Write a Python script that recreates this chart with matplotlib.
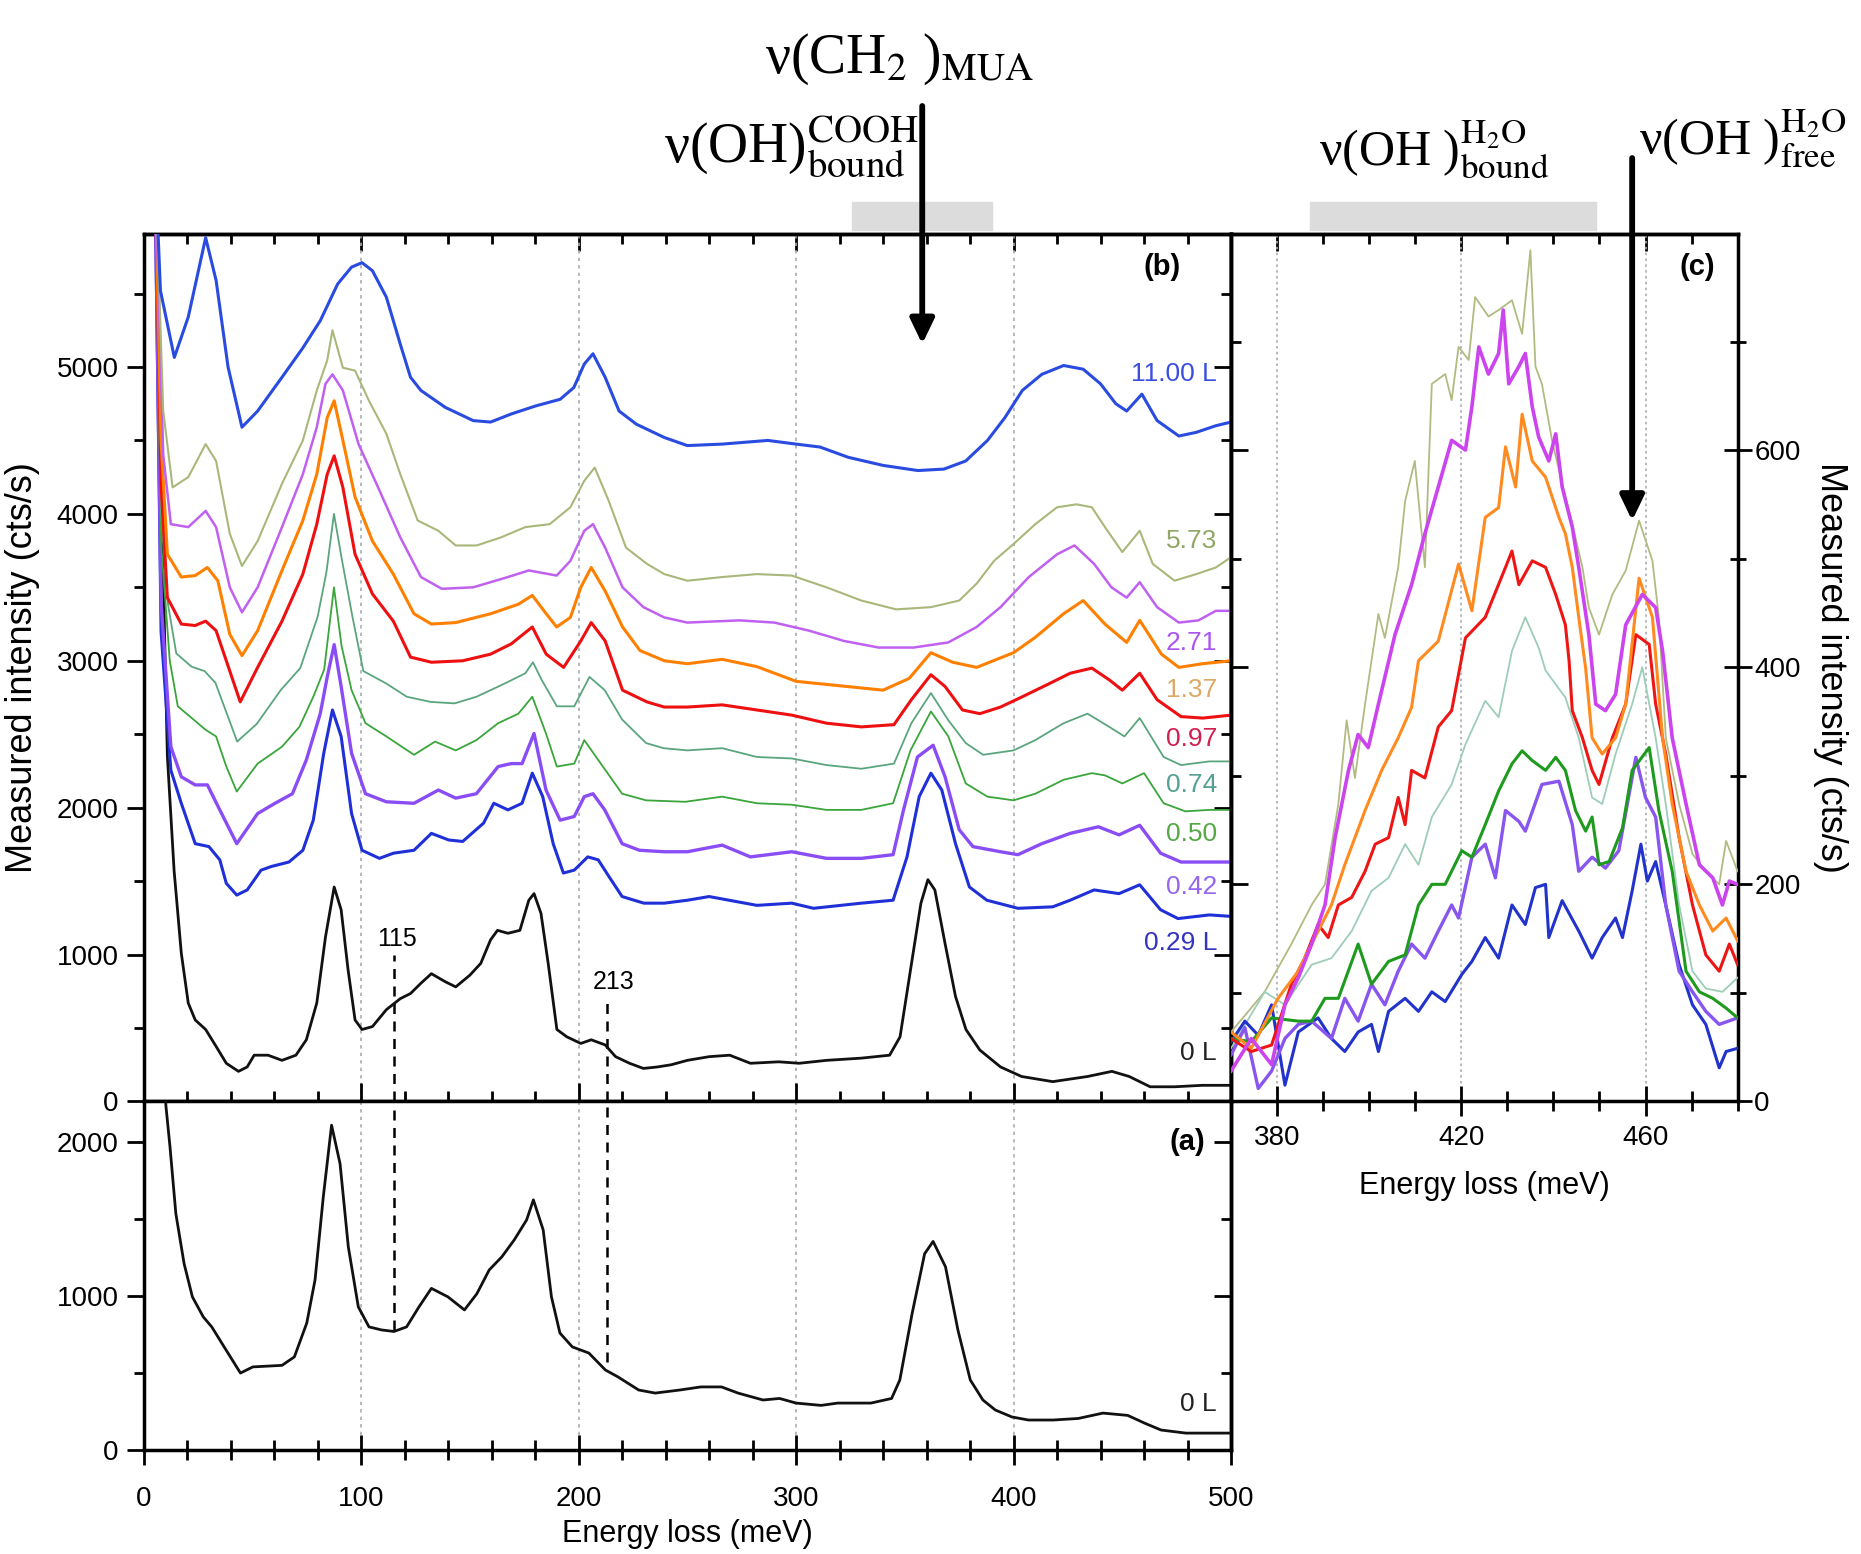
"""HREELS spectra of MUA layers under water exposure: panels (a), (b) and (c)."""

import matplotlib.pyplot as plt
import matplotlib.transforms as mtransforms
from matplotlib.patches import Rectangle
from matplotlib.ticker import FixedLocator, MultipleLocator

# ---------------------------------------------------------------- panel (b)
B_11_X = [5, 7.7, 14.1, 20.5, 28.5, 33.3, 38.8, 45.2, 52.4, 63.6, 73.2, 81.2, 89.2, 95.6, 100.4,
          105.2, 111.6, 118, 122.7, 127.5, 138.7, 151.5, 159.5, 169, 180.3, 191.5, 197.8, 202.6,
          206.6, 212.2, 218.6, 226.6, 239.4, 250, 266, 287, 300, 311, 324, 340, 356, 368, 378, 388,
          396, 404, 413, 423, 432, 440, 447, 452, 459, 466, 476, 484, 493, 500]
B_11_Y = [6500, 5520, 5065, 5340, 5880, 5590, 5000, 4590, 4700, 4930, 5130, 5315, 5565, 5680, 5710,
          5655, 5475, 5155, 4930, 4840, 4725, 4635, 4625, 4680, 4735, 4780, 4860, 5020, 5090, 4930,
          4700, 4610, 4520, 4465, 4475, 4500, 4475, 4455, 4385, 4330, 4295, 4305, 4360, 4500, 4655,
          4840, 4950, 5010, 4985, 4885, 4750, 4700, 4815, 4635, 4530, 4555, 4600, 4625]

B_573_X = [5, 9, 13.3, 20.5, 28.5, 33.3, 39.6, 45.2, 52.4, 63.6, 73.2, 79.6, 84.4, 86.8, 91.6, 97.2,
           103.6, 111.6, 118, 126, 135.5, 143.5, 153.1, 164.3, 175.5, 186.7, 196.2, 202.6, 207.4,
           213.8, 221.8, 231.4, 239.4, 250, 266, 282, 298, 314, 330, 346, 362, 375, 383, 391, 400,
           410, 420, 429, 436, 442, 450, 458, 464, 474, 484, 493, 500]
B_573_Y = [6500, 4700, 4180, 4250, 4475, 4360, 3865, 3645, 3815, 4205, 4500, 4840, 5045, 5250, 4995,
           4975, 4770, 4545, 4270, 3955, 3885, 3785, 3785, 3840, 3910, 3930, 4045, 4225, 4315, 4090,
           3770, 3660, 3590, 3545, 3570, 3590, 3580, 3500, 3410, 3350, 3365, 3410, 3525, 3680, 3795,
           3930, 4045, 4065, 4045, 3910, 3740, 3885, 3660, 3545, 3590, 3635, 3705]

B_271_X = [5, 9, 12.5, 20.5, 28.5, 33.3, 39.6, 45.2, 52.4, 63.6, 73.2, 79.6, 83.6, 86.8, 91.6, 98.8,
           108.4, 118, 127.5, 137.1, 151.5, 167.5, 177.1, 189.9, 196.2, 202.6, 206.6, 212.2, 220.2,
           229.8, 239.4, 250, 274, 290, 306, 322, 338, 354, 370, 383, 394, 407, 420, 428, 437, 445,
           452, 458, 466, 476, 485, 493, 500]
B_271_Y = [6500, 4400, 3930, 3910, 4020, 3910, 3500, 3330, 3500, 3910, 4270, 4590, 4885, 4950, 4840,
           4475, 4160, 3840, 3570, 3490, 3500, 3570, 3615, 3580, 3680, 3885, 3930, 3770, 3500, 3365,
           3295, 3260, 3275, 3260, 3205, 3135, 3090, 3090, 3125, 3230, 3365, 3570, 3725, 3785, 3660,
           3500, 3430, 3535, 3365, 3260, 3275, 3340, 3340]

B_137_X = [5, 8, 10.9, 17.3, 23.7, 29.3, 34.1, 39.6, 45.2, 52.4, 63.6, 73.2, 79.6, 84.4, 87.6, 91.6,
           97.2, 105.2, 114.8, 124.3, 132.3, 143.5, 159.5, 172.3, 178.7, 185.1, 189.9, 196.2, 201,
           205.8, 212.2, 220.2, 228.2, 239.4, 250, 266, 282, 300, 320, 340, 352, 362, 372, 383, 400,
           410, 423, 432, 442, 452, 458, 468, 476, 487, 500]
B_137_Y = [6500, 4500, 3725, 3570, 3580, 3635, 3545, 3180, 3035, 3205, 3615, 3955, 4270, 4655, 4770,
           4500, 4115, 3815, 3590, 3320, 3250, 3260, 3320, 3385, 3445, 3320, 3230, 3295, 3500, 3635,
           3475, 3230, 3070, 3000, 2980, 3010, 2960, 2860, 2830, 2800, 2880, 3055, 2990, 2955, 3055,
           3160, 3320, 3410, 3250, 3125, 3275, 3045, 2955, 2980, 3000]

B_097_X = [5, 8, 10.9, 17.3, 23.7, 28.5, 33.3, 38, 44.4, 52.4, 63.6, 73.2, 79.6, 84.4, 87.6, 91.6,
           97.2, 105.2, 114.8, 122.7, 132.3, 146.7, 159.5, 169, 178.7, 185.1, 193.1, 201, 205.8,
           212.2, 220.2, 231.4, 239.4, 250, 266, 282, 298, 314, 330, 345, 353, 362, 368.5, 376.5,
           384.5, 394, 404, 416.5, 426, 436, 444, 450, 458, 466, 477, 487, 500]
B_097_Y = [6500, 4200, 3430, 3250, 3240, 3270, 3205, 3000, 2720, 2955, 3270, 3590, 3930, 4270, 4395,
           4180, 3725, 3455, 3270, 3025, 2990, 3000, 3045, 3115, 3230, 3045, 2955, 3135, 3260, 3135,
           2800, 2720, 2685, 2685, 2700, 2665, 2630, 2575, 2550, 2565, 2735, 2905, 2825, 2665, 2640,
           2685, 2755, 2845, 2915, 2950, 2870, 2800, 2915, 2735, 2620, 2610, 2630]

B_074_X = [5, 8, 11, 15, 22, 28, 33, 38, 43, 52, 63, 72, 80, 84, 87.5, 91, 96, 101, 111.6, 121, 132,
           143, 153, 166, 175.5, 179, 183, 190, 198, 205, 212, 220, 231, 239, 250, 266, 282, 298,
           314, 330, 345, 353, 362, 370, 378, 386, 400, 410, 423, 434, 444, 451, 458, 469, 477, 490,
           500]
B_074_Y = [6500, 4000, 3400, 3050, 2960, 2930, 2850, 2650, 2450, 2570, 2800, 2950, 3300, 3600, 4000,
           3700, 3300, 2930, 2845, 2755, 2720, 2710, 2755, 2845, 2915, 2990, 2870, 2690, 2690, 2890,
           2800, 2600, 2440, 2405, 2390, 2405, 2345, 2335, 2290, 2265, 2300, 2575, 2780, 2595, 2440,
           2360, 2390, 2460, 2575, 2640, 2550, 2485, 2610, 2345, 2290, 2315, 2315]

B_050_X = [5, 8, 12, 15.7, 28.5, 33.3, 38, 42.8, 52.4, 63.6, 71.6, 78, 83, 87.5, 91, 95.6, 102,
           111.6, 124.3, 134, 143.5, 153, 163, 172.3, 178.7, 185, 190, 198, 202.6, 209, 220, 231,
           249, 266, 282, 298, 314, 330, 344.6, 352.6, 362, 370, 378, 388, 400, 410, 423, 436, 442,
           450, 460, 469, 479, 490, 500]
B_050_Y = [6500, 3800, 3000, 2690, 2530, 2485, 2280, 2110, 2300, 2415, 2550, 2755, 2940, 3500, 3100,
           2800, 2575, 2485, 2360, 2450, 2390, 2460, 2575, 2640, 2755, 2505, 2280, 2300, 2460, 2325,
           2095, 2050, 2040, 2075, 2030, 2020, 1985, 1985, 2030, 2390, 2655, 2485, 2165, 2075, 2050,
           2095, 2190, 2235, 2220, 2165, 2235, 2030, 1975, 1985, 1985]

B_042_X = [5, 8, 12.5, 17.3, 23.7, 29.3, 35, 42.8, 52.4, 60.4, 68.4, 74.8, 81.2, 84.4, 87.6, 90.8,
           95.6, 102, 111.6, 124.3, 135.5, 143.5, 153, 163, 169, 174, 179.5, 185, 191.5, 198, 202.6,
           206.6, 212, 220, 228, 239.4, 250, 266, 279, 298, 314, 330, 344.6, 349.4, 355.8, 363,
           368.5, 375, 381.3, 394, 402, 413, 426, 439, 448.5, 458, 467.6, 477, 490, 500]
B_042_Y = [6500, 3400, 2415, 2210, 2155, 2155, 1985, 1755, 1960, 2030, 2095, 2325, 2640, 2890, 3110,
           2825, 2370, 2095, 2040, 2030, 2120, 2065, 2095, 2280, 2300, 2300, 2505, 2120, 1915, 1940,
           2075, 2095, 1985, 1755, 1710, 1700, 1700, 1745, 1665, 1700, 1655, 1655, 1680, 1985, 2345,
           2425, 2210, 1850, 1735, 1700, 1680, 1755, 1825, 1870, 1815, 1880, 1690, 1630, 1630, 1630]

B_029_X = [5, 8, 12.5, 17.3, 23.7, 30, 35, 38, 42.8, 47.6, 54, 58.8, 66.8, 73.2, 78, 82.8, 86.8,
           90.8, 95.6, 100.4, 108.4, 114.8, 124.3, 132.3, 140.3, 146.7, 156.3, 161, 167.5, 174,
           178.7, 183.5, 188.3, 193, 198, 204.2, 209, 214, 220, 230, 239.4, 250, 260, 282, 298, 308,
           330, 344.6, 351, 356.6, 362, 367, 373.3, 379.7, 387.7, 402, 418, 426, 437, 448.5, 458,
           467.6, 475.6, 490, 500]
B_029_Y = [6500, 3200, 2255, 2030, 1755, 1735, 1645, 1485, 1405, 1440, 1575, 1600, 1630, 1710, 1915,
           2370, 2665, 2485, 1960, 1710, 1655, 1690, 1710, 1825, 1780, 1770, 1895, 2030, 1985, 2030,
           2235, 2075, 1755, 1555, 1575, 1665, 1645, 1530, 1395, 1350, 1350, 1370, 1395, 1335, 1350,
           1315, 1350, 1370, 1665, 2075, 2235, 2120, 1755, 1460, 1370, 1315, 1325, 1370, 1440, 1415,
           1475, 1305, 1245, 1270, 1260]

B_0_X = [5.5, 8.5, 10.9, 14, 17.3, 20.5, 23.7, 28.5, 33.3, 38, 43.6, 47.6, 50.8, 57.2, 63.6, 70,
         74.8, 79.6, 83.6, 87.6, 90.8, 94, 97.2, 100.4, 105.2, 111.6, 118, 122.7, 127.5, 132.3,
         138.7, 143.5, 150, 155, 159.5, 162.7, 167.5, 173, 177.1, 179.5, 182.7, 186, 190, 194.6,
         201, 205.8, 212.2, 217, 223.4, 229.8, 236.2, 242.6, 250, 260, 269.5, 279, 292, 301.4, 314,
         330, 343, 347.8, 352.6, 357.4, 360.6, 363.8, 368.5, 373.3, 378.1, 384.5, 394, 403.7, 418,
         434, 445.2, 453.2, 462.8, 474, 486.8, 500]
B_0_Y = [6500, 3900, 2350, 1570, 1010, 670, 555, 490, 375, 260, 205, 235, 315, 315, 280, 315, 420,
         670, 1120, 1460, 1305, 895, 555, 490, 510, 625, 700, 735, 805, 870, 815, 780, 860, 940,
         1100, 1165, 1145, 1165, 1370, 1415, 1280, 940, 490, 440, 395, 420, 385, 305, 260, 225,
         235, 250, 280, 305, 315, 260, 270, 260, 280, 295, 315, 440, 895, 1350, 1510, 1440, 1075,
         715, 490, 350, 235, 170, 135, 170, 205, 170, 100, 100, 110, 110]

B_LABELS = ["11.00 L", "5.73", "2.71", "1.37", "0.97", "0.74", "0.50", "0.42", "0.29 L", "0 L"]
B_LABEL_Y = [4955, 3815, 3123, 2801, 2467, 2154, 1820, 1462, 1078, 330]

# ---------------------------------------------------------------- panel (a)
A_0_X = [9, 10.2, 12.1, 14.8, 18.6, 22.4, 27.4, 31.3, 37, 44.5, 50.2, 63.6, 69.3, 75, 78.8, 82.6,
         86.4, 90.3, 94.1, 98.7, 103.6, 109.4, 115.1, 120.9, 126.6, 132.3, 139.9, 147.5, 153.2,
         158.9, 164.7, 170.4, 176.1, 179.2, 183.7, 187.5, 191.4, 197.1, 204.7, 212.3, 218.1, 227.6,
         235.2, 246.6, 256.2, 265.7, 273.3, 284.8, 292.4, 300, 311.5, 319.1, 334.4, 343.9, 347.7,
         353.4, 359.1, 363, 368.7, 374.4, 380.1, 385.9, 391.6, 399.2, 406.8, 418.2, 429.7, 441.1,
         452.5, 460.2, 467.8, 479.2, 498.3, 500]
A_0_Y = [3000, 2240, 1970, 1535, 1210, 995, 865, 800, 670, 500, 540, 550, 605, 825, 1105, 1645,
         2110, 1860, 1320, 930, 800, 780, 770, 800, 930, 1050, 995, 910, 1015, 1170, 1255, 1365,
         1495, 1625, 1430, 995, 760, 670, 630, 520, 475, 390, 370, 390, 410, 410, 370, 325, 335,
         305, 290, 305, 305, 335, 455, 890, 1275, 1355, 1190, 780, 455, 325, 260, 215, 195, 195,
         205, 240, 225, 175, 130, 110, 110, 110]
A_LABEL_Y = 300

# marked energies (meV): dashed line top in (b), bottom in (a)
MARK_E = [115, 213]
MARK_B_TOP = [997, 702]
MARK_A_BOTTOM = [779, 574]

# ---------------------------------------------------------------- panel (c)
C_OLIVE_X = [370, 377.3, 383.1, 387.5, 390.4, 393.3, 395.1, 396.9, 399.1, 402, 403.4, 406.3, 407.8,
             409.9, 412.1, 413.6, 416.5, 417.9, 419.4, 421.6, 423, 425.9, 428.1, 431, 433.2, 435,
             436.1, 437.5, 439.7, 441.9, 444.1, 446.3, 447.7, 449.9, 452.8, 455.7, 458.6, 461.5,
             462.9, 464.4, 467.3, 470.2, 473.1, 476, 477.5, 480]
C_OLIVE_Y = [64, 101, 145, 181, 200, 274, 351, 298, 366, 449, 427, 492, 553, 590, 492, 661, 670,
             646, 695, 683, 741, 723, 729, 738, 707, 784, 677, 661, 609, 569, 532, 492, 455, 430,
             467, 489, 535, 498, 446, 335, 274, 228, 212, 200, 240, 212]

C_MAGENTA_X = [370, 374.4, 378.8, 381.7, 384.6, 387.5, 390.4, 392.6, 395.5, 397.6, 399.8, 402, 405.6,
               409.2, 412.1, 415, 417.9, 420.9, 422.3, 423.8, 425.9, 428.1, 429.1, 430.3, 432.5,
               433.9, 435.4, 436.8, 439, 440.5, 441.9, 444.1, 445.5, 447.7, 449.2, 451.3, 453.5,
               455.7, 459.3, 462.2, 463.7, 465.8, 468.8, 471.7, 474.6, 476.7, 478.2, 480]
C_MAGENTA_Y = [28, 58, 34, 89, 114, 145, 181, 243, 305, 338, 326, 366, 430, 476, 523, 566, 609, 600,
               640, 695, 670, 689, 729, 661, 677, 689, 640, 612, 590, 615, 566, 529, 492, 430, 366,
               360, 375, 439, 467, 455, 415, 335, 274, 218, 206, 181, 203, 200]

C_ORANGE_X = [370, 374.4, 380.2, 384.6, 388.2, 391.8, 394.7, 399.1, 402.7, 406.3, 409.2, 410.7, 415,
              419.4, 422.3, 425.2, 428.1, 429.6, 431.8, 433.2, 435.4, 438.3, 441.2, 442.6, 444.1,
              445.5, 447, 448.4, 450.6, 453.5, 455.7, 458.6, 461.5, 463.7, 465.8, 468.8, 471.7,
              474.6, 477.5, 480]
C_ORANGE_Y = [64, 49, 95, 120, 151, 181, 218, 268, 305, 335, 363, 406, 424, 495, 452, 538, 547, 603,
              566, 633, 590, 575, 538, 523, 492, 446, 399, 335, 320, 335, 366, 482, 446, 335, 274,
              212, 181, 157, 169, 148]

C_RED_X = [370, 374.4, 378.8, 383.1, 386, 388.9, 391.1, 393.3, 396.2, 399.1, 401.3, 404.2, 406.3,
           407.8, 409.2, 412.1, 415, 417.9, 420.9, 425.2, 429.6, 431, 432.5, 435.4, 438.3, 440.5,
           442.6, 443.4, 444.1, 446.3, 448.4, 449.9, 452.8, 455.7, 457.9, 460.8, 462.2, 464.4,
           467.3, 470.2, 473.1, 476, 478.2, 480]
C_RED_Y = [58, 46, 52, 108, 132, 163, 151, 181, 188, 212, 237, 243, 280, 255, 305, 298, 345, 360,
           427, 446, 492, 507, 476, 498, 492, 467, 439, 406, 360, 335, 305, 292, 335, 366, 430, 421,
           366, 320, 243, 181, 135, 120, 145, 126]

C_TEAL_X = [370, 377.3, 381.7, 387.5, 391.8, 396.2, 400.5, 404.2, 407.8, 410.7, 413.6, 417.9, 420.9,
            425.2, 428.1, 431, 433.9, 436.8, 438.3, 442.6, 445.5, 448.4, 450.6, 453.5, 457.1, 459.3,
            462.2, 464.4, 467.3, 470.2, 473.1, 476.7, 480]
C_TEAL_Y = [49, 101, 89, 126, 132, 157, 194, 206, 237, 218, 262, 292, 329, 369, 354, 415, 446, 418,
            397, 372, 335, 280, 274, 320, 366, 400, 335, 274, 181, 120, 104, 101, 114]

C_GREEN_X = [370, 374.4, 378.8, 384.6, 387.5, 390.4, 393.3, 397.6, 400.5, 404.2, 407.8, 410.7, 413.6,
             416.5, 420.1, 422.3, 425.2, 428.1, 431, 433.2, 435.4, 438.3, 440.5, 442.6, 444.8, 447,
             448.4, 449.9, 452.1, 455, 457.1, 460.8, 462.9, 465.8, 468.8, 471.7, 474.6, 477.5, 480]
C_GREEN_Y = [58, 55, 77, 74, 74, 95, 95, 145, 108, 129, 135, 181, 200, 200, 231, 225, 255, 286, 311,
             323, 314, 305, 317, 305, 268, 249, 262, 218, 221, 252, 305, 326, 268, 212, 120, 101,
             95, 86, 77]

C_PURPLE_X = [370, 373, 375.9, 378.8, 381.7, 384.6, 387.5, 391.8, 394.7, 397.6, 400.5, 403.4, 406.3,
              409.2, 412.1, 415, 417.9, 419.4, 422.3, 425.2, 427.4, 429.6, 432.5, 433.9, 437.5,
              441.2, 444.1, 445.5, 448.4, 451.3, 454.2, 457.9, 460, 462.2, 464.4, 467.3, 470.2,
              473.1, 476, 480]
C_PURPLE_Y = [43, 68, 12, 28, 58, 71, 74, 58, 95, 74, 108, 89, 120, 145, 132, 157, 181, 169, 225,
              237, 206, 268, 258, 249, 292, 295, 255, 212, 225, 215, 231, 317, 280, 262, 181, 120,
              101, 83, 71, 77]

C_BLUE_X = [370, 373, 375.9, 378.8, 381.7, 384.6, 388.9, 391.8, 394.7, 397.6, 400.5, 402, 404.2,
            407.8, 410.7, 413.6, 416.5, 420.1, 422.3, 425.2, 428.1, 431, 433.9, 436.1, 438.3, 439,
            441.9, 445.5, 448.4, 450.6, 453.5, 455, 457.1, 459, 460.4, 462.2, 464.4, 467.3, 470.2,
            473.1, 476, 477.5, 480]
C_BLUE_Y = [55, 74, 61, 89, 15, 64, 77, 58, 46, 64, 71, 46, 83, 95, 83, 101, 92, 117, 129, 151, 132,
            181, 163, 197, 200, 151, 185, 157, 132, 151, 169, 151, 194, 237, 203, 221, 181, 126, 89,
            71, 31, 46, 49]

# ---------------------------------------------------------------- styles
B_SERIES = [  # x, y, line colour, line width
    (B_0_X, B_0_Y, "#111111", 2.0),
    (B_029_X, B_029_Y, "#2030d8", 2.2),
    (B_042_X, B_042_Y, "#8a4df5", 2.4),
    (B_050_X, B_050_Y, "#3aa53a", 1.3),
    (B_074_X, B_074_Y, "#5aa57e", 1.3),
    (B_097_X, B_097_Y, "#ee1010", 2.2),
    (B_137_X, B_137_Y, "#ff8000", 2.2),
    (B_271_X, B_271_Y, "#c060f0", 1.8),
    (B_573_X, B_573_Y, "#a9b87a", 1.5),
    (B_11_X, B_11_Y, "#2a4be0", 2.2),
]
B_LABEL_COLORS = ["#3a4ee0", "#8fa865", "#aa55ee", "#dba865", "#d02050",
                  "#55a095", "#55a845", "#9466f0", "#3434c0", "#222222"]

C_SERIES = [
    (C_OLIVE_X, C_OLIVE_Y, "#b2ba82", 1.3),
    (C_TEAL_X, C_TEAL_Y, "#9dcdb8", 1.3),
    (C_BLUE_X, C_BLUE_Y, "#2233cc", 2.2),
    (C_PURPLE_X, C_PURPLE_Y, "#8855ee", 2.4),
    (C_GREEN_X, C_GREEN_Y, "#1e9a1e", 2.2),
    (C_RED_X, C_RED_Y, "#ee1515", 2.2),
    (C_ORANGE_X, C_ORANGE_Y, "#ff8a20", 2.2),
    (C_MAGENTA_X, C_MAGENTA_Y, "#cc44ee", 2.6),
]

GRID_COLOR = "#a6adb4"
TICK_FS = 20
SERIF = ["Liberation Serif", "DejaVu Serif"]

plt.rcParams.update({
    "font.family": ["Liberation Sans", "DejaVu Sans"],
    "mathtext.fontset": "stix",
    "axes.linewidth": 2.5,
    "xtick.major.width": 2.0,
    "ytick.major.width": 2.0,
    "xtick.minor.width": 2.0,
    "ytick.minor.width": 2.0,
})


def inner_ticks(ax, side, major, minor):
    """Ticks pointing into the frame on one side, without labels."""
    if side in ("top", "bottom"):
        sec = ax.secondary_xaxis(side)
        axis = sec.xaxis
    else:
        sec = ax.secondary_yaxis(side)
        axis = sec.yaxis
    axis.set_major_locator(major)
    axis.set_minor_locator(minor)
    sec.tick_params(which="both", direction="in", width=2.0, labelbottom=False, labeltop=False,
                    labelleft=False, labelright=False)
    sec.tick_params(which="major", length=12)
    sec.tick_params(which="minor", length=7)
    return sec


fig = plt.figure(figsize=(18.61, 15.54), dpi=100)
ax_b = fig.add_axes([0.0772, 0.2912, 0.5843, 0.5582])
ax_a = fig.add_axes([0.0772, 0.0669, 0.5843, 0.2243])
ax_c = fig.add_axes([0.6615, 0.2912, 0.2722, 0.5582])

# ---- panel (b)
for x, y, col, lw in B_SERIES:
    ax_b.plot(x, y, color=col, lw=lw, zorder=3)
for text, yv, col in zip(B_LABELS, B_LABEL_Y, B_LABEL_COLORS):
    ax_b.text(493.5, yv, text, color=col, fontsize=19, ha="right", va="center", zorder=4)
ax_b.set_xlim(0, 500)
ax_b.set_ylim(0, 5905)
ax_b.xaxis.set_major_locator(MultipleLocator(100))
ax_b.xaxis.set_minor_locator(MultipleLocator(20))
ax_b.yaxis.set_major_locator(MultipleLocator(1000))
ax_b.yaxis.set_minor_locator(MultipleLocator(500))
ax_b.tick_params(axis="x", which="both", direction="inout", top=False, labelbottom=False)
ax_b.tick_params(axis="x", which="major", length=26)
ax_b.tick_params(axis="x", which="minor", length=14)
ax_b.tick_params(axis="y", which="both", direction="out", right=False, labelsize=TICK_FS, pad=6)
ax_b.tick_params(axis="y", which="major", length=12)
ax_b.tick_params(axis="y", which="minor", length=7)
inner_ticks(ax_b, "top", MultipleLocator(100), MultipleLocator(20))
inner_ticks(ax_b, "right", MultipleLocator(1000), MultipleLocator(500))
ax_b.set_ylabel("Measured intensity (cts/s)", fontsize=26, labelpad=12)
ax_b.text(0.937, 0.962, "(b)", transform=ax_b.transAxes, fontsize=21, fontweight="bold",
          ha="center", va="center")

# ---- panel (a)
ax_a.plot(A_0_X, A_0_Y, color="#111111", lw=2.0, zorder=3)
ax_a.set_xlim(0, 500)
ax_a.set_ylim(0, 2264)
ax_a.xaxis.set_major_locator(MultipleLocator(100))
ax_a.xaxis.set_minor_locator(MultipleLocator(20))
ax_a.yaxis.set_major_locator(MultipleLocator(1000))
ax_a.yaxis.set_minor_locator(MultipleLocator(500))
ax_a.tick_params(axis="x", which="both", direction="inout", top=False, labelsize=TICK_FS, pad=15)
ax_a.tick_params(axis="x", which="major", length=22)
ax_a.tick_params(axis="x", which="minor", length=14)
ax_a.tick_params(axis="y", which="both", direction="out", right=False, labelsize=TICK_FS, pad=6)
ax_a.tick_params(axis="y", which="major", length=12)
ax_a.tick_params(axis="y", which="minor", length=7)
inner_ticks(ax_a, "right", MultipleLocator(1000), MultipleLocator(500))
ax_a.set_xlabel("Energy loss (meV)", fontsize=22, labelpad=5)
ax_a.text(493.5, A_LABEL_Y, "0 L", color="#222222", fontsize=19, ha="right", va="center")
ax_a.text(0.9595, 0.8836, "(a)", transform=ax_a.transAxes, fontsize=21, fontweight="bold",
          ha="center", va="center")

# grey reference energies and the two marked energies
for ax in (ax_a, ax_b):
    for xv in (100, 200, 300, 400):
        ax.axvline(xv, color=GRID_COLOR, ls=(0, (2, 2.5)), lw=1.2, zorder=1)
for e, top, bottom in zip(MARK_E, MARK_B_TOP, MARK_A_BOTTOM):
    ax_b.plot([e, e], [0, top], color="black", ls=(0, (4, 3)), lw=1.8, zorder=2)
    ax_a.plot([e, e], [bottom, 2264], color="black", ls=(0, (4, 3)), lw=1.8, zorder=2)
ax_b.text(116.6, 1104, "115", fontsize=18, ha="center", va="center")
ax_b.text(216.2, 816, "213", fontsize=18, ha="center", va="center")

# ---- panel (c)
for x, y, col, lw in C_SERIES:
    ax_c.plot(x, y, color=col, lw=lw, zorder=3)
for xv in (380, 420, 460):
    ax_c.axvline(xv, color=GRID_COLOR, ls=(0, (1.5, 2)), lw=1.2, zorder=1)
ax_c.set_xlim(370, 480)
ax_c.set_ylim(0, 799)
ax_c.xaxis.set_major_locator(FixedLocator([380, 420, 460]))
ax_c.xaxis.set_minor_locator(MultipleLocator(10))
ax_c.yaxis.set_major_locator(MultipleLocator(200))
ax_c.yaxis.set_minor_locator(MultipleLocator(100))
ax_c.yaxis.tick_right()
ax_c.tick_params(axis="x", which="both", direction="inout", top=False, labelsize=TICK_FS, pad=6)
ax_c.tick_params(axis="x", which="major", length=22)
ax_c.tick_params(axis="x", which="minor", length=14)
ax_c.tick_params(axis="y", which="both", direction="inout", left=False, labelsize=TICK_FS, pad=2)
ax_c.tick_params(axis="y", which="major", length=20)
ax_c.tick_params(axis="y", which="minor", length=12)
inner_ticks(ax_c, "top", FixedLocator([380, 420, 460]), MultipleLocator(10))
inner_ticks(ax_c, "left", MultipleLocator(200), MultipleLocator(100))
ax_c.yaxis.set_label_position("right")
ax_c.set_ylabel("Measured intensity (cts/s)", fontsize=26, rotation=270, labelpad=34)
ax_c.set_xlabel("Energy loss (meV)", fontsize=22, labelpad=14)
ax_c.text(0.92, 0.962, "(c)", transform=ax_c.transAxes, fontsize=21, fontweight="bold",
          ha="center", va="center")

# ---- grey bands, arrows and band assignments above the frame
band_b = mtransforms.blended_transform_factory(ax_b.transData, ax_b.transAxes)
band_c = mtransforms.blended_transform_factory(ax_c.transData, ax_c.transAxes)
ax_b.add_patch(Rectangle((325.7, 1.0046), 64.3, 0.032, transform=band_b, color="#dcdcdc",
                         clip_on=False, zorder=1))
ax_c.add_patch(Rectangle((387.1, 1.0046), 62.1, 0.032, transform=band_c, color="#dcdcdc",
                         clip_on=False, zorder=1))

arrow = dict(arrowstyle="-|>,head_length=0.75,head_width=0.36", lw=4.2, color="black",
             mutation_scale=20, shrinkA=0, shrinkB=0)
ax_b.annotate("", xy=(358, 5156), xytext=(358, 1.1476), textcoords=band_b,
              arrowprops=arrow, annotation_clip=False, zorder=6)
ax_c.annotate("", xy=(457.1, 535), xytext=(457.1, 1.0876), textcoords=band_c,
              arrowprops=arrow, annotation_clip=False, zorder=6)

fig.text(0.4835, 0.953, r"ν(CH$_2$ )$_{\mathrm{MUA}}$", fontsize=40,
         ha="center", va="baseline", family=SERIF)
fig.text(0.4935, 0.896, r"ν(OH)$^{\mathrm{COOH}}_{\mathrm{bound}}$", fontsize=40,
         ha="right", va="baseline", family=SERIF)
fig.text(0.709, 0.894, r"ν(OH )$^{\mathrm{H_2O}}_{\mathrm{bound}}$", fontsize=36,
         ha="left", va="baseline", family=SERIF)
fig.text(0.8805, 0.901, r"ν(OH )$^{\mathrm{H_2O}}_{\mathrm{free}}$", fontsize=36,
         ha="left", va="baseline", family=SERIF)

fig.savefig("out.png", dpi=100)
